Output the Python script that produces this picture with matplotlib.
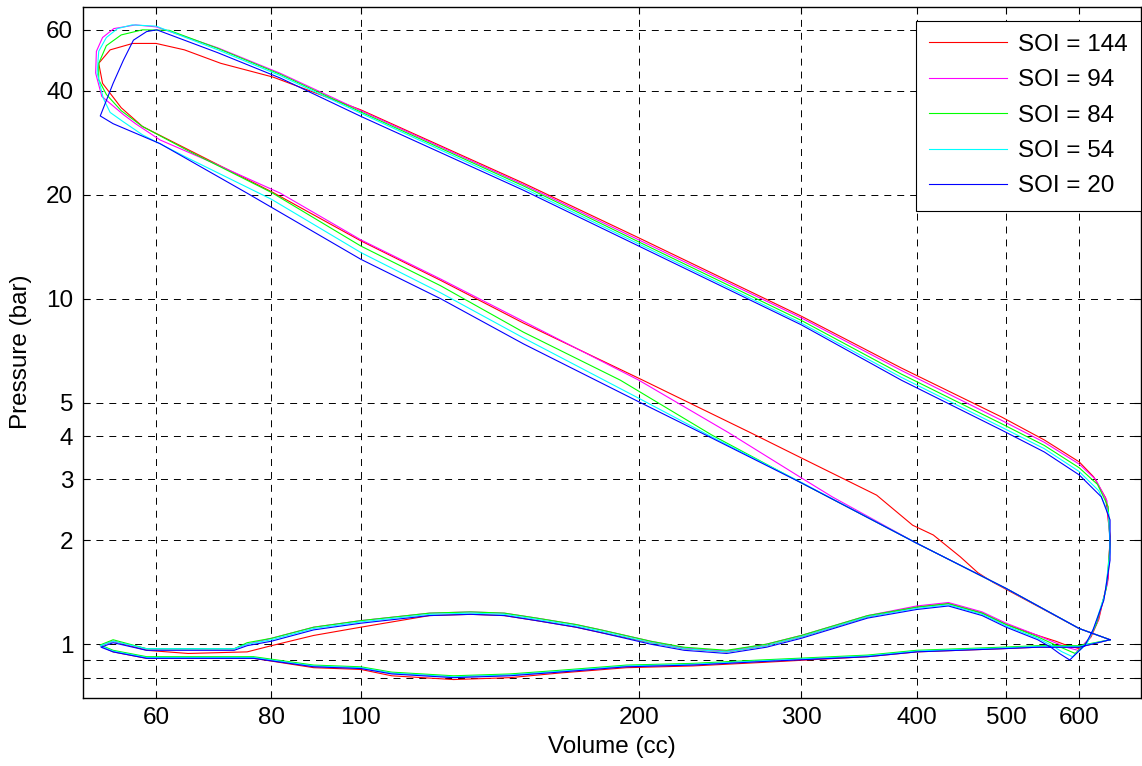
import numpy as np
import matplotlib.pyplot as plt
from matplotlib.ticker import FixedLocator, FixedFormatter, NullLocator

plt.rcParams['font.family'] = ['Liberation Sans', 'DejaVu Sans']
plt.rcParams['lines.scale_dashes'] = False

# (volume cc, pressure bar), one closed cycle per SOI
soi144 = [(648, 1.03), (600, 1.11), (484, 1.51), (466, 1.61), (446, 1.79), (417, 2.07), (396, 2.21),
          (362, 2.70), (300, 3.46), (264, 4.1), (202, 5.81), (150, 8.5), (122, 11.3), (100, 14.7),
          (80.3, 20.3), (65, 27), (58, 31.5), (55, 35.7), (52.5, 42), (52, 48), (53.5, 52.5),
          (56.6, 54.8), (60, 54.8), (64.4, 52.5), (70.5, 48), (80.3, 43.8), (100, 35.2), (150, 21.6),
          (200, 15.0), (300, 8.9), (385, 6.3), (494, 4.55), (550, 3.9), (600, 3.37), (622, 3.05),
          (641, 2.65), (648, 2.05), (645, 1.55), (630, 1.18), (618, 1.05), (601, 0.97), (583, 0.99),
          (566, 1.02), (541, 1.06), (500, 1.14), (471, 1.23), (433, 1.31), (400, 1.28), (354, 1.20),
          (300, 1.05), (275, 0.99), (249, 0.95), (224, 0.97), (206, 1.01), (182, 1.08), (171, 1.12),
          (155, 1.17), (143, 1.21), (131.5, 1.22), (118.7, 1.21), (100, 1.12), (88.9, 1.06), (80, 0.99),
          (75.3, 0.95), (65, 0.94), (58.6, 0.96), (53.9, 1.02), (52.2, 0.99), (53.9, 0.95), (58.6, 0.91),
          (76.5, 0.91), (88.9, 0.855), (100, 0.845), (108, 0.81), (126, 0.79), (145, 0.80), (164, 0.825),
          (194, 0.855), (229, 0.865), (271, 0.885), (354, 0.92), (400, 0.95), (494, 0.97), (541, 0.98),
          (600, 0.98), (648, 1.03)]

soi94 = [(648, 1.03), (600, 1.11), (500, 1.45), (400, 1.96), (324, 2.67), (300, 3.03), (250, 4.1),
         (200, 5.81), (150, 8.6), (122, 11.4), (100, 14.8), (81.8, 20.2), (69.2, 24.7), (60.6, 28.8),
         (57, 32.1), (55.3, 34.1), (52.4, 38.5), (51.6, 45), (51.7, 52), (52.5, 57), (54, 60.5),
         (57, 62), (60, 61.2), (70, 53.2), (81.8, 44.9), (100, 35.0), (150, 21.4), (200, 14.8),
         (300, 8.8), (385, 6.2), (494, 4.45), (550, 3.84), (600, 3.32), (625, 3.0), (643, 2.6),
         (648, 2.0), (644, 1.5), (628, 1.16), (616, 1.04), (598, 0.96), (581, 0.98), (565, 1.01),
         (541, 1.06), (500, 1.15), (471, 1.24), (433, 1.32), (400, 1.29), (354, 1.21), (300, 1.06),
         (275, 1.0), (249, 0.955), (224, 0.975), (206, 1.02), (182, 1.10), (171, 1.14), (155, 1.19),
         (143, 1.23), (131.5, 1.24), (118.7, 1.23), (100, 1.17), (88.9, 1.12), (80, 1.04), (75.3, 1.0),
         (72.9, 0.97), (58.6, 0.97), (53.9, 1.02), (52.2, 0.99), (53.9, 0.955), (58.6, 0.915),
         (76.5, 0.915), (88.9, 0.865), (100, 0.855), (108, 0.825), (126, 0.805), (145, 0.815),
         (164, 0.835), (194, 0.865), (229, 0.875), (271, 0.895), (354, 0.925), (400, 0.955),
         (494, 0.975), (541, 0.985), (600, 0.985), (648, 1.03)]

soi84 = [(648, 1.03), (600, 1.11), (500, 1.45), (400, 1.96), (300, 2.93), (240, 4.03), (191, 5.81),
         (150, 8.0), (122, 10.9), (100, 14.2), (80, 20.3), (65, 26.8), (58, 31.5), (55, 35), (53, 39),
         (52, 43), (52, 48), (53, 54), (55, 58), (58, 60), (62, 59.8), (70, 53), (81.8, 44.6),
         (100, 34.7), (150, 21.2), (200, 14.6), (300, 8.65), (385, 6.05), (494, 4.35), (550, 3.76),
         (600, 3.24), (628, 2.9), (645, 2.5), (648, 1.95), (642, 1.45), (626, 1.14), (613, 1.02),
         (594, 0.94), (578, 0.97), (563, 1.0), (541, 1.05), (500, 1.14), (471, 1.23), (433, 1.31),
         (400, 1.28), (354, 1.21), (300, 1.06), (275, 1.0), (249, 0.96), (224, 0.98), (206, 1.02),
         (182, 1.10), (171, 1.14), (155, 1.19), (143, 1.23), (131.5, 1.24), (118.7, 1.23), (100, 1.17),
         (88.9, 1.12), (80, 1.04), (75.3, 1.01), (72.9, 0.97), (58.6, 0.97), (53.9, 1.03), (52.2, 0.995),
         (53.9, 0.96), (58.6, 0.92), (76.5, 0.92), (88.9, 0.87), (100, 0.86), (108, 0.83), (126, 0.81),
         (145, 0.82), (164, 0.84), (194, 0.87), (229, 0.88), (271, 0.90), (354, 0.93), (400, 0.96),
         (494, 0.98), (541, 0.99), (600, 0.99), (648, 1.03)]

soi54 = [(648, 1.03), (600, 1.11), (500, 1.45), (400, 1.96), (300, 2.94), (240, 3.98), (200, 5.15),
         (150, 7.7), (122, 10.4), (100, 13.6), (80, 19.4), (65, 25.5), (58, 29.8), (55.3, 32.5),
         (53.5, 34.6), (52.6, 38), (51.8, 45), (52, 52), (53, 57), (54.5, 60.5), (56.5, 62), (60, 61.5),
         (70, 52.5), (81.8, 44.2), (100, 34.4), (150, 20.9), (200, 14.4), (300, 8.5), (385, 5.92),
         (494, 4.25), (550, 3.68), (600, 3.16), (630, 2.78), (646, 2.38), (648, 1.85), (640, 1.4),
         (623, 1.12), (611, 1.0), (590, 0.92), (575, 0.95), (561, 0.99), (541, 1.04), (500, 1.13),
         (471, 1.22), (433, 1.30), (400, 1.27), (354, 1.20), (300, 1.05), (275, 0.99), (249, 0.95),
         (224, 0.97), (206, 1.01), (182, 1.09), (171, 1.13), (155, 1.18), (143, 1.22), (131.5, 1.23),
         (118.7, 1.22), (100, 1.16), (88.9, 1.11), (80, 1.03), (75.3, 1.0), (72.9, 0.97), (58.6, 0.97),
         (53.9, 1.02), (52.2, 0.99), (53.9, 0.955), (58.6, 0.915), (76.5, 0.915), (88.9, 0.865),
         (100, 0.855), (108, 0.825), (126, 0.805), (145, 0.815), (164, 0.835), (194, 0.865),
         (229, 0.875), (271, 0.895), (354, 0.925), (400, 0.955), (494, 0.975), (541, 0.985),
         (600, 0.985), (648, 1.03)]

soi20 = [(648, 1.03), (600, 1.11), (500, 1.45), (400, 1.96), (300, 2.93), (240, 3.95), (200, 5.03),
         (150, 7.4), (122, 10.0), (100, 13.0), (75.3, 20.2), (60.6, 28.1), (53.9, 32.1), (52.2, 33.8),
         (53.9, 42), (55.3, 49), (56.7, 56), (58.6, 59.3), (60.1, 60), (70, 51.5), (81.8, 43.5),
         (100, 33.7), (150, 20.6), (200, 14.2), (300, 8.4), (385, 5.81), (494, 4.17), (550, 3.6),
         (600, 3.09), (634, 2.67), (648, 2.29), (648, 1.75), (638, 1.34), (621, 1.10), (609, 0.995),
         (586, 0.90), (571, 0.94), (559, 0.98), (541, 1.03), (500, 1.12), (471, 1.21), (433, 1.29),
         (400, 1.26), (354, 1.19), (300, 1.04), (275, 0.98), (249, 0.94), (224, 0.96), (206, 1.00),
         (182, 1.08), (171, 1.12), (155, 1.17), (143, 1.21), (131.5, 1.22), (118.7, 1.21), (100, 1.15),
         (88.9, 1.10), (80, 1.02), (75.3, 0.99), (72.9, 0.96), (58.6, 0.96), (53.9, 1.01), (52.3, 0.98),
         (53.9, 0.95), (58.6, 0.91), (76.5, 0.91), (88.9, 0.86), (100, 0.85), (108, 0.82), (126, 0.80),
         (145, 0.81), (164, 0.83), (194, 0.86), (229, 0.87), (271, 0.89), (354, 0.92), (400, 0.95),
         (494, 0.97), (541, 0.98), (600, 0.98), (648, 1.03)]

labels = ['SOI = 144', 'SOI = 94', 'SOI = 84', 'SOI = 54', 'SOI = 20']
colors = ['#ff0000', '#ff00ff', '#00ff00', '#00ffff', '#0000ff']

x_ticks = [60, 80, 100, 200, 300, 400, 500, 600]
y_ticks = [0.8, 0.9, 1, 2, 3, 4, 5, 10, 20, 40, 60]
y_tick_labels = ['', '', '1', '2', '3', '4', '5', '10', '20', '40', '60']

fig = plt.figure(figsize=(11.42, 7.66), dpi=100)
ax = fig.add_axes([83 / 1142, 68.3 / 766, 1058 / 1142, 691 / 766])

for cyc, lab, col in zip([soi144, soi94, soi84, soi54, soi20], labels, colors):
    v, p = np.array(cyc).T
    ax.plot(v, p, color=col, lw=0.8, label=lab)

ax.set_xscale('log')
ax.set_yscale('log')
ax.set_xlim(50, 700)
ax.set_ylim(0.7, 70)

ax.xaxis.set_major_locator(FixedLocator(x_ticks))
ax.xaxis.set_major_formatter(FixedFormatter([str(t) for t in x_ticks]))
ax.xaxis.set_minor_locator(NullLocator())
ax.yaxis.set_major_locator(FixedLocator(y_ticks))
ax.yaxis.set_major_formatter(FixedFormatter(y_tick_labels))
ax.yaxis.set_minor_locator(NullLocator())

ax.tick_params(which='major', direction='in', length=5, width=0.8, top=True, right=True,
               labelsize=17.5, pad=7)
ax.grid(True, which='major', color='black', lw=0.7, linestyle=(0, (5, 4.3)))
for s in ax.spines.values():
    s.set_linewidth(1.0)

ax.set_xlabel('Volume (cc)', fontsize=17.5, labelpad=5)
ax.set_ylabel('Pressure (bar)', fontsize=17.5, labelpad=10)

leg = ax.legend(loc='upper right', bbox_to_anchor=(1141 / 1142, 745.5 / 766),
                bbox_transform=fig.transFigure, borderaxespad=0,
                fontsize=17.5, handlelength=3.2, labelspacing=0.55,
                fancybox=False, framealpha=1, edgecolor='black',
                handletextpad=0.45, borderpad=0.55)
leg.get_frame().set_linewidth(0.8)

fig.savefig('out.png', dpi=100)
